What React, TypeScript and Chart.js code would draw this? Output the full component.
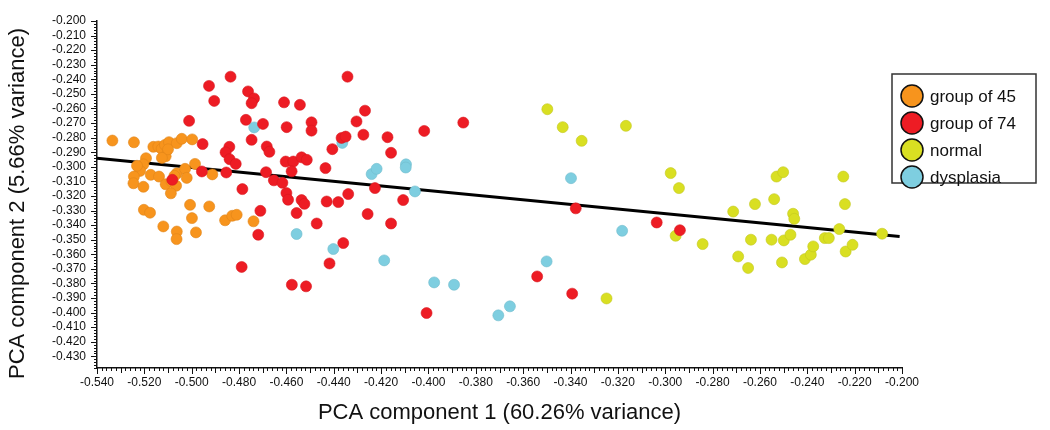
import React, { useEffect, useRef } from "react";
import { Chart, registerables } from "chart.js";

Chart.register(...registerables);

// ---- data (PCA component 1, PCA component 2) ----
const group45: [number, number][] = [
  [-0.5335, -0.282], [-0.5244, -0.2832], [-0.5162, -0.2863], [-0.5141, -0.2861], [-0.5127, -0.2877],
  [-0.5113, -0.285], [-0.5096, -0.2831], [-0.5063, -0.2838], [-0.5042, -0.2808], [-0.4998, -0.2812],
  [-0.511, -0.2928], [-0.5193, -0.2941], [-0.5204, -0.2983], [-0.5218, -0.3028], [-0.5244, -0.3067],
  [-0.5246, -0.3113], [-0.5204, -0.3137], [-0.5173, -0.3055], [-0.5138, -0.3067], [-0.511, -0.312],
  [-0.5085, -0.3101], [-0.5063, -0.3045], [-0.5028, -0.3014], [-0.4986, -0.298], [-0.5021, -0.3076],
  [-0.5066, -0.313], [-0.5088, -0.3182], [-0.4913, -0.3052], [-0.5202, -0.3295], [-0.5176, -0.3315],
  [-0.5007, -0.3261], [-0.4926, -0.3272], [-0.4999, -0.3352], [-0.512, -0.3409], [-0.5063, -0.3444],
  [-0.5064, -0.3496], [-0.4982, -0.345], [-0.4859, -0.3367], [-0.4829, -0.3336], [-0.481, -0.3329],
  [-0.4739, -0.3374], [-0.51, -0.288], [-0.5231, -0.2993], [-0.5126, -0.2939], [-0.5073, -0.3062],
];

const group74: [number, number][] = [
  [-0.4836, -0.2382], [-0.4927, -0.2445], [-0.4905, -0.2548], [-0.4762, -0.2483], [-0.4737, -0.2531],
  [-0.4747, -0.2564], [-0.5011, -0.2685], [-0.4771, -0.2678], [-0.4699, -0.2706], [-0.4747, -0.2815],
  [-0.461, -0.2558], [-0.4543, -0.2575], [-0.4599, -0.2728], [-0.4494, -0.2695], [-0.4494, -0.2752],
  [-0.4342, -0.2382], [-0.4954, -0.2844], [-0.4841, -0.2863], [-0.4857, -0.2901], [-0.484, -0.2948],
  [-0.4814, -0.298], [-0.4957, -0.3032], [-0.4854, -0.3039], [-0.4686, -0.3037], [-0.4683, -0.2861],
  [-0.4672, -0.2897], [-0.4603, -0.2964], [-0.4571, -0.2964], [-0.4536, -0.2935], [-0.4514, -0.2952],
  [-0.4578, -0.3031], [-0.4653, -0.3093], [-0.4617, -0.311], [-0.4786, -0.3153], [-0.46, -0.318],
  [-0.4593, -0.3226], [-0.4536, -0.3228], [-0.4524, -0.3254], [-0.443, -0.3238], [-0.4381, -0.3242],
  [-0.4339, -0.3187], [-0.4435, -0.3009], [-0.4406, -0.2879], [-0.4367, -0.2802], [-0.435, -0.2793],
  [-0.4304, -0.2689], [-0.4268, -0.2615], [-0.4275, -0.278], [-0.4173, -0.2797], [-0.4158, -0.2904],
  [-0.4018, -0.2754], [-0.3853, -0.2697], [-0.4226, -0.3146], [-0.4257, -0.3324], [-0.4158, -0.3389],
  [-0.4107, -0.3228], [-0.5082, -0.3089], [-0.471, -0.3302], [-0.4719, -0.3466], [-0.4789, -0.3687],
  [-0.4557, -0.3317], [-0.4472, -0.3389], [-0.436, -0.3523], [-0.4418, -0.3663], [-0.4577, -0.3809],
  [-0.4517, -0.382], [-0.4008, -0.4003], [-0.3541, -0.3752], [-0.3393, -0.387], [-0.3378, -0.3285],
  [-0.3036, -0.3382], [-0.2938, -0.3435],
];

const normal: [number, number][] = [
  [-0.3498, -0.2605], [-0.3433, -0.2728], [-0.3353, -0.2822], [-0.3166, -0.2719], [-0.3248, -0.3903],
  [-0.2977, -0.3043], [-0.2942, -0.3146], [-0.2956, -0.3473], [-0.2842, -0.353], [-0.2713, -0.3307],
  [-0.2692, -0.3615], [-0.265, -0.3694], [-0.2638, -0.35], [-0.2621, -0.3256], [-0.2551, -0.35],
  [-0.254, -0.3222], [-0.253, -0.3067], [-0.2502, -0.3037], [-0.2507, -0.3656], [-0.2499, -0.3505],
  [-0.2471, -0.3466], [-0.246, -0.3322], [-0.2455, -0.3357], [-0.241, -0.3633], [-0.2385, -0.3603],
  [-0.2375, -0.3546], [-0.2326, -0.3489], [-0.2309, -0.3489], [-0.2265, -0.3427], [-0.2248, -0.3067],
  [-0.2241, -0.3256], [-0.2238, -0.3581], [-0.2209, -0.3535], [-0.2084, -0.3459],
];

const dysplasia: [number, number][] = [
  [-0.4736, -0.273], [-0.4557, -0.3461], [-0.4402, -0.3564], [-0.4364, -0.2836], [-0.424, -0.305],
  [-0.4219, -0.3014], [-0.4187, -0.3642], [-0.4095, -0.2983], [-0.4096, -0.3005], [-0.4057, -0.3169],
  [-0.3976, -0.3793], [-0.3892, -0.3809], [-0.3705, -0.4019], [-0.3656, -0.3957], [-0.3501, -0.3649],
  [-0.3398, -0.3078], [-0.3182, -0.3439],
];

const fitLine: [number, number][] = [
  [-0.54, -0.2941],
  [-0.201, -0.3478],
];

const seriesNames = ["group of 45", "group of 74", "normal", "dysplasia"];
const seriesColors = ["#F7941D", "#ED1C24", "#D9DF22", "#7ECEE0"];
const seriesBorders = ["#E0841A", "#D9181F", "#C2C81E", "#70BCCD"];

const xAxisTitle = "PCA component 1 (60.26% variance)";
const yAxisTitle = "PCA component 2 (5.66% variance)";

const X_MIN = -0.54;
const X_MAX = -0.2;
const Y_MIN = -0.438;
const Y_MAX = -0.2;

// tick labels
const xTickValues: number[] = [];
for (let i = 0; i <= 17; i++) xTickValues.push(Number((X_MIN + i * 0.02).toFixed(3)));
const yTickValues: number[] = [];
for (let i = 0; i <= 23; i++) yTickValues.push(Number((-0.43 + i * 0.01).toFixed(3)));

const FONT = "'Liberation Sans', Arial, Helvetica, sans-serif";

const toPts = (arr: [number, number][]) => arr.map(([x, y]) => ({ x, y }));

const axisTicksPlugin = {
  id: "axisTicks",
  afterDatasetsDraw(chart: any) {
    const { ctx, chartArea, scales } = chart;
    const xs = scales.x;
    const ys = scales.y;
    ctx.save();
    ctx.strokeStyle = "#111";
    ctx.lineWidth = 1;
    const nx = Math.round((X_MAX - X_MIN) / 0.002);
    for (let i = 0; i <= nx; i++) {
      const v = X_MIN + i * 0.002;
      const px = Math.round(xs.getPixelForValue(v)) + 0.5;
      const len = i % 10 === 0 ? 6 : i % 5 === 0 ? 5 : 3;
      ctx.beginPath();
      ctx.moveTo(px, chartArea.bottom);
      ctx.lineTo(px, chartArea.bottom + len);
      ctx.stroke();
    }
    const ny = Math.round((Y_MAX - Y_MIN) / 0.002);
    for (let i = 0; i <= ny; i++) {
      const v = Y_MIN + i * 0.002;
      const py = Math.round(ys.getPixelForValue(v)) + 0.5;
      const major = Math.round(v * 1000) % 10 === 0;
      const len = major ? 6 : 3;
      ctx.beginPath();
      ctx.moveTo(chartArea.left, py);
      ctx.lineTo(chartArea.left - len, py);
      ctx.stroke();
    }
    ctx.restore();
  },
};

const yTitlePlugin = {
  id: "yTitle",
  afterDraw(chart: any) {
    const { ctx, chartArea } = chart;
    ctx.save();
    ctx.translate(18, (chartArea.top + chartArea.bottom) / 2 + 9);
    ctx.rotate(-Math.PI / 2);
    ctx.font = `22px ${FONT}`;
    ctx.fillStyle = "#111";
    ctx.textAlign = "center";
    ctx.textBaseline = "middle";
    ctx.fillText(yAxisTitle, 0, 0);
    ctx.restore();
  },
};

const boxLegendPlugin = {
  id: "boxLegend",
  afterDraw(chart: any) {
    const { ctx, chartArea } = chart;
    const left = chartArea.right - 10;
    const top = 74;
    const w = 144;
    const h = 109;
    ctx.save();
    ctx.fillStyle = "#fff";
    ctx.fillRect(left, top, w, h);
    ctx.strokeStyle = "#333";
    ctx.lineWidth = 1.5;
    ctx.strokeRect(left, top, w, h);
    ctx.font = `17px ${FONT}`;
    ctx.textBaseline = "middle";
    ctx.textAlign = "left";
    seriesNames.forEach((name, i) => {
      const cy = top + 22 + i * 27;
      ctx.beginPath();
      ctx.arc(left + 20, cy, 11, 0, Math.PI * 2);
      ctx.fillStyle = seriesColors[i];
      ctx.fill();
      ctx.lineWidth = 1.5;
      ctx.strokeStyle = "#111";
      ctx.stroke();
      ctx.fillStyle = "#111";
      ctx.fillText(name, left + 38, cy + 1);
    });
    ctx.restore();
  },
};

export default function App() {
  const ref = useRef<HTMLCanvasElement>(null);

  useEffect(() => {
    document.body.style.margin = "0";
    const groups = [group45, group74, normal, dysplasia];
    const orders = [1, 0, 2, 3];
    const datasets: any[] = groups.map((g, i) => ({
      type: "scatter",
      label: seriesNames[i],
      data: toPts(g),
      backgroundColor: seriesColors[i],
      borderColor: seriesBorders[i],
      borderWidth: 0.6,
      pointRadius: 5.5,
      order: orders[i],
    }));
    datasets.push({
      type: "line",
      label: "fit",
      data: toPts(fitLine),
      borderColor: "#000",
      borderWidth: 3,
      pointRadius: 0,
      fill: false,
      order: 10,
    });

    const chart = new Chart(ref.current as HTMLCanvasElement, {
      type: "scatter",
      data: { datasets },
      options: {
        animation: false,
        responsive: false,
        devicePixelRatio: 1,
        layout: { padding: { left: 0, right: 148, top: 21, bottom: 0 } },
        plugins: {
          legend: { display: false },
          tooltip: { enabled: false },
        },
        scales: {
          x: {
            type: "linear",
            min: X_MIN,
            max: X_MAX,
            afterBuildTicks: (scale: any) => {
              scale.ticks = xTickValues.map((v) => ({ value: v }));
            },
            afterFit: (scale: any) => {
              scale.height = 62;
            },
            grid: { display: false, drawTicks: false, tickLength: 0 },
            border: { display: true, color: "#111", width: 1.5 },
            ticks: {
              autoSkip: false,
              maxRotation: 0,
              padding: 7,
              color: "#111",
              font: { family: FONT, size: 12 },
              callback: (v: any) => Number(v).toFixed(3),
            },
            title: {
              display: true,
              text: xAxisTitle,
              color: "#111",
              font: { family: FONT, size: 22 },
              padding: { top: 0, bottom: 4 },
            },
          },
          y: {
            type: "linear",
            min: Y_MIN,
            max: Y_MAX,
            afterBuildTicks: (scale: any) => {
              scale.ticks = yTickValues.map((v) => ({ value: v }));
            },
            afterFit: (scale: any) => {
              scale.width = 97;
            },
            grid: { display: false, drawTicks: false, tickLength: 0 },
            border: { display: true, color: "#111", width: 1.5 },
            ticks: {
              autoSkip: false,
              padding: 11,
              color: "#111",
              font: { family: FONT, size: 12 },
              callback: (v: any) => Number(v).toFixed(3),
            },
            title: { display: false },
          },
        },
      },
      plugins: [axisTicksPlugin, yTitlePlugin, boxLegendPlugin],
    } as any);

    return () => chart.destroy();
  }, []);

  return (
    <canvas
      ref={ref}
      width={1050}
      height={430}
      style={{ display: "block", width: 1050, height: 430 }}
    />
  );
}
